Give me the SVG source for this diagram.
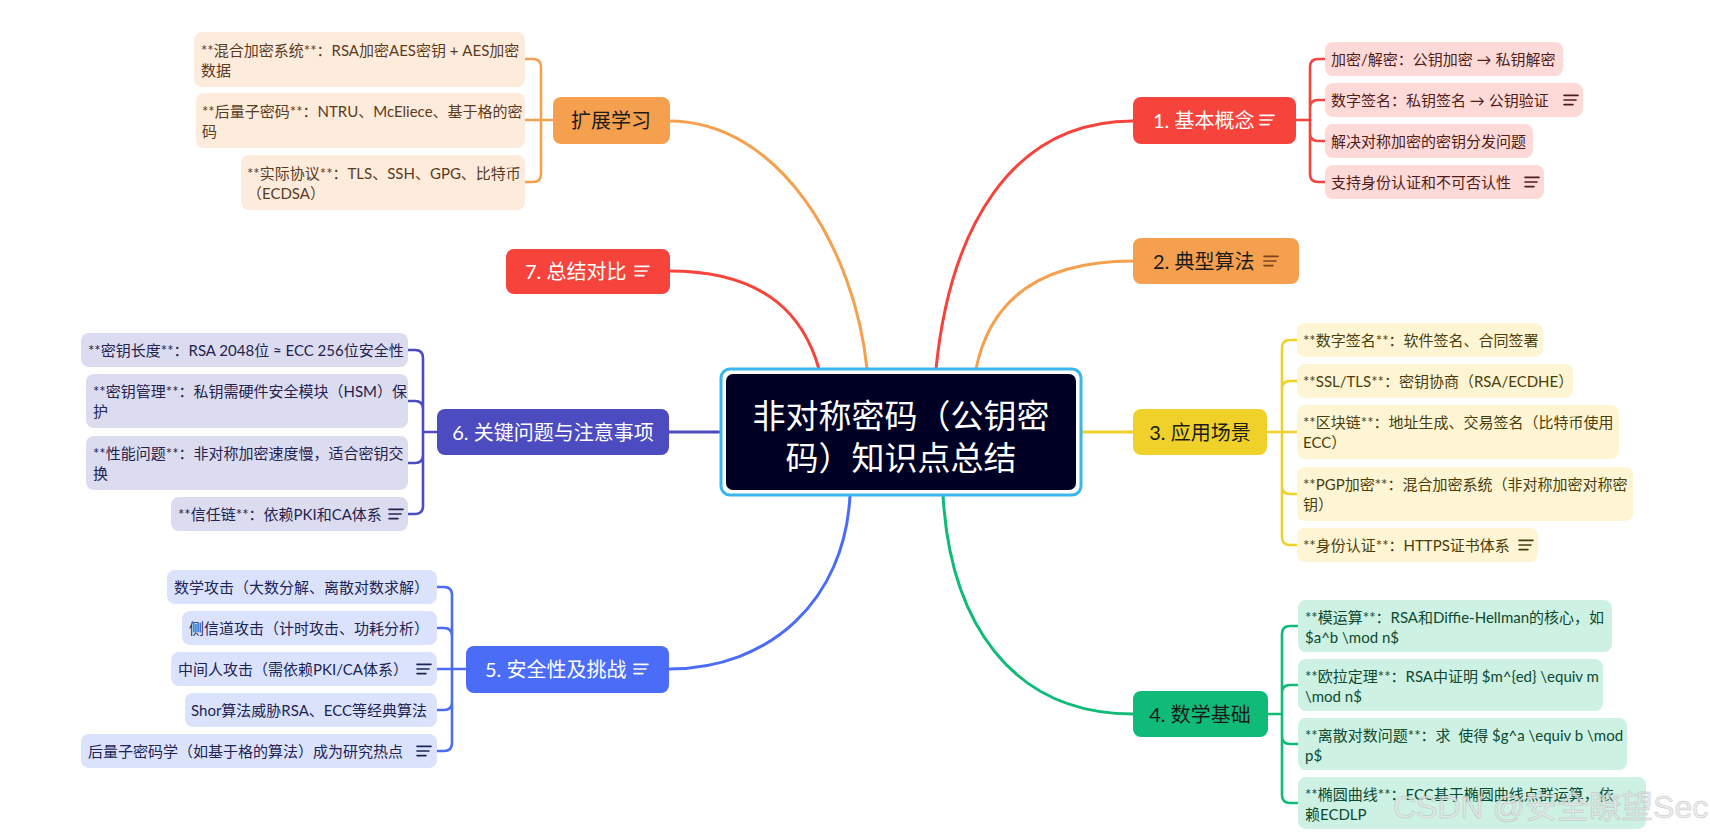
<svg xmlns="http://www.w3.org/2000/svg" xmlns:xlink="http://www.w3.org/1999/xlink" width="1710" height="835" viewBox="0 0 1710 835">
<style>
text{font-family:Lato,"Noto Sans CJK SC",sans-serif;dominant-baseline:central}
.c{font-size:15px}
.n{font-size:20px}
.w{fill:#ffffff}
.d{fill:#1b1b1b}
.conn{fill:none;stroke-width:3;stroke-linecap:round}
.br{fill:none;stroke-width:2.6;stroke-linecap:round;stroke-linejoin:round}
.red{stroke:#f6443c}.org{stroke:#f5a04e}.yel{stroke:#f0d12a}.grn{stroke:#10bb78}.blu{stroke:#4a6cf7}.ind{stroke:#4c4bc0}
.cr{fill:#fdd9d8}.tr{fill:#4f1c18}
.co{fill:#fdebdc}.to{fill:#5a3b1f}
.cy{fill:#fdf5d4}.ty{fill:#4a3d0a}
.cg{fill:#cdf1e3}.tg{fill:#0c4a32}
.cb{fill:#dbe3fc}.tb{fill:#1d2456}
.ci{fill:#dcdcf1}.ti{fill:#25224f}
</style>
<defs>
<path id="note" d="M0 -4.6H14M0 0H12M0 4.6H9" fill="none" stroke="currentColor" stroke-width="1.6" stroke-linecap="round"/>
</defs>
<rect width="1710" height="835" fill="#ffffff"/>

<g id="connectors">
<path class="conn red" d="M936 369C950 230 1010 121 1133 121"/>
<path class="conn org" d="M976 369C990 300 1040 261 1133 261"/>
<path class="conn yel" d="M1081 432H1133"/>
<path class="conn grn" d="M943 495C950 620 1010 714 1133 714"/>
<path class="conn blu" d="M850 495C845 600 770 669 669 669"/>
<path class="conn ind" d="M669 432H721"/>
<path class="conn red" d="M819 369C805 320 770 271 669 271"/>
<path class="conn org" d="M867 369C855 250 780 121 669 121"/>
<path class="br red" d="M1296 120H1310M1310 120V67Q1310 59 1318 59H1325M1310 120V108Q1310 100 1318 100H1325M1310 120V133Q1310 141 1318 141H1325M1310 120V174Q1310 182 1318 182H1325"/>
<path class="br org" d="M553 120H525M541 120V67Q541 59 533 59H525M541 120V174Q541 182 533 182H525"/>
<path class="br yel" d="M1267 432H1297M1282 432V348Q1282 340 1290 340H1297M1282 432V389Q1282 381 1290 381H1297M1282 432V486Q1282 494 1290 494H1297M1282 432V537Q1282 545 1290 545H1297"/>
<path class="br grn" d="M1268 714H1282M1282 714V634Q1282 626 1290 626H1298M1282 714V693Q1282 685 1290 685H1298M1282 714V736Q1282 744 1290 744H1298M1282 714V795Q1282 803 1290 803H1298"/>
<path class="br blu" d="M466 669H437M452 669V595Q452 587 444 587H437M452 669V636Q452 628 444 628H437M452 669V702Q452 710 444 710H437M452 669V743Q452 751 444 751H437"/>
<path class="br ind" d="M437 432H423M423 432V358Q423 350 415 350H408M423 432V409Q423 401 415 401H408M423 432V455Q423 463 415 463H408M423 432V506Q423 514 415 514H408"/>
</g>

<g id="central">
<rect x="721" y="369" width="360" height="126" rx="9" fill="#ffffff" stroke="#3ab6ef" stroke-width="3"/>
<rect x="726" y="374" width="350" height="116" rx="7" fill="#000024"/>
<text x="901" y="415" text-anchor="middle" font-size="33" class="w">非对称密码（公钥密</text>
<text x="901" y="457" text-anchor="middle" font-size="33" class="w">码）知识点总结</text>
</g>

<g id="n1">
<rect x="1133" y="97" width="163" height="47" rx="8" fill="#f6443c"/>
<text x="1153" y="120" class="n w">1. 基本概念</text>
<use href="#note" x="1260" y="120" color="#ffffff"/>
</g>
<g id="n1c1"><rect x="1325" y="42" width="238" height="34" rx="8" class="cr"/><text x="1331" y="59" class="c tr">加密/解密：公钥加密 → 私钥解密</text></g>
<g id="n1c2"><rect x="1325" y="83" width="258" height="34" rx="8" class="cr"/><text x="1331" y="100" class="c tr">数字签名：私钥签名 → 公钥验证</text><use href="#note" x="1564" y="100" color="#4f1c18"/></g>
<g id="n1c3"><rect x="1325" y="124" width="208" height="34" rx="8" class="cr"/><text x="1331" y="141" class="c tr">解决对称加密的密钥分发问题</text></g>
<g id="n1c4"><rect x="1325" y="165" width="219" height="34" rx="8" class="cr"/><text x="1331" y="182" class="c tr">支持身份认证和不可否认性</text><use href="#note" x="1525" y="182" color="#4f1c18"/></g>

<g id="n2">
<rect x="1133" y="238" width="166" height="46" rx="8" fill="#f5a04e"/>
<text x="1153" y="261" class="n d">2. 典型算法</text>
<use href="#note" x="1264" y="261" color="#7a4518"/>
</g>

<g id="n3">
<rect x="1133" y="409" width="134" height="46" rx="8" fill="#f0d12a"/>
<text x="1200" y="432" text-anchor="middle" class="n d">3. 应用场景</text>
</g>
<g id="n3c1"><rect x="1297" y="323" width="246" height="34" rx="8" class="cy"/><text x="1303" y="340" class="c ty">**数字签名**：软件签名、合同签署</text></g>
<g id="n3c2"><rect x="1297" y="364" width="276" height="34" rx="8" class="cy"/><text x="1303" y="381" class="c ty">**SSL/TLS**：密钥协商（RSA/ECDHE）</text></g>
<g id="n3c3"><rect x="1297" y="405" width="322" height="54" rx="8" class="cy"/><text x="1303" y="422" class="c ty">**区块链**：地址生成、交易签名（比特币使用</text><text x="1303" y="442" class="c ty">ECC）</text></g>
<g id="n3c4"><rect x="1297" y="467" width="336" height="54" rx="8" class="cy"/><text x="1303" y="484" class="c ty">**PGP加密**：混合加密系统（非对称加密对称密</text><text x="1303" y="504" class="c ty">钥）</text></g>
<g id="n3c5"><rect x="1297" y="528" width="241" height="34" rx="8" class="cy"/><text x="1303" y="545" class="c ty">**身份认证**：HTTPS证书体系</text><use href="#note" x="1519" y="545" color="#4a3d0a"/></g>

<g id="n4">
<rect x="1133" y="691" width="135" height="46" rx="8" fill="#10bb78"/>
<text x="1200" y="714" text-anchor="middle" class="n d">4. 数学基础</text>
</g>
<g id="n4c1"><rect x="1298" y="600" width="314" height="52" rx="8" class="cg"/><text x="1305" y="617" class="c tg">**模运算**：RSA和Diffie-Hellman的核心，如</text><text x="1305" y="637" class="c tg">$a^b \mod n$</text></g>
<g id="n4c2"><rect x="1298" y="659" width="305" height="52" rx="8" class="cg"/><text x="1305" y="676" class="c tg">**欧拉定理**：RSA中证明 $m^{ed} \equiv m</text><text x="1305" y="696" class="c tg">\mod n$</text></g>
<g id="n4c3"><rect x="1298" y="718" width="329" height="52" rx="8" class="cg"/><text x="1305" y="735" class="c tg" xml:space="preserve">**离散对数问题**：求  使得 $g^a \equiv b \mod</text><text x="1305" y="755" class="c tg">p$</text></g>
<g id="n4c4"><rect x="1298" y="777" width="348" height="52" rx="8" class="cg"/><text x="1305" y="794" class="c tg">**椭圆曲线**：ECC基于椭圆曲线点群运算，依</text><text x="1305" y="814" class="c tg">赖ECDLP</text></g>

<g id="n5">
<rect x="466" y="646" width="203" height="47" rx="8" fill="#4a6cf7"/>
<text x="485" y="669" class="n w">5. 安全性及挑战</text>
<use href="#note" x="634" y="669" color="#ffffff"/>
</g>
<g id="n5c1"><rect x="167" y="570" width="270" height="34" rx="8" class="cb"/><text x="174" y="587" class="c tb">数学攻击（大数分解、离散对数求解）</text></g>
<g id="n5c2"><rect x="182" y="611" width="255" height="34" rx="8" class="cb"/><text x="189" y="628" class="c tb">侧信道攻击（计时攻击、功耗分析）</text></g>
<g id="n5c3"><rect x="171" y="652" width="266" height="34" rx="8" class="cb"/><text x="178" y="669" class="c tb">中间人攻击（需依赖PKI/CA体系）</text><use href="#note" x="417" y="669" color="#1d2456"/></g>
<g id="n5c4"><rect x="185" y="693" width="252" height="34" rx="8" class="cb"/><text x="191" y="710" class="c tb">Shor算法威胁RSA、ECC等经典算法</text></g>
<g id="n5c5"><rect x="81" y="734" width="356" height="34" rx="8" class="cb"/><text x="88" y="751" class="c tb">后量子密码学（如基于格的算法）成为研究热点</text><use href="#note" x="417" y="751" color="#1d2456"/></g>

<g id="n6">
<rect x="437" y="409" width="232" height="46" rx="8" fill="#4c4bc0"/>
<text x="553" y="432" text-anchor="middle" class="n w">6. 关键问题与注意事项</text>
</g>
<g id="n6c1"><rect x="81" y="333" width="327" height="34" rx="8" class="ci"/><text x="88" y="350" class="c ti">**密钥长度**：RSA 2048位 ≈ ECC 256位安全性</text></g>
<g id="n6c2"><rect x="86" y="374" width="322" height="54" rx="8" class="ci"/><text x="93" y="391" class="c ti">**密钥管理**：私钥需硬件安全模块（HSM）保</text><text x="93" y="411" class="c ti">护</text></g>
<g id="n6c3"><rect x="86" y="436" width="322" height="54" rx="8" class="ci"/><text x="93" y="453" class="c ti">**性能问题**：非对称加密速度慢，适合密钥交</text><text x="93" y="473" class="c ti">换</text></g>
<g id="n6c4"><rect x="171" y="497" width="237" height="34" rx="8" class="ci"/><text x="178" y="514" class="c ti">**信任链**：依赖PKI和CA体系</text><use href="#note" x="389" y="514" color="#25224f"/></g>

<g id="n7">
<rect x="506" y="249" width="164" height="45" rx="8" fill="#f6443c"/>
<text x="525" y="271" class="n w">7. 总结对比</text>
<use href="#note" x="635" y="271" color="#ffffff"/>
</g>

<g id="n8">
<rect x="553" y="97" width="117" height="47" rx="8" fill="#f5a04e"/>
<text x="611" y="120" text-anchor="middle" class="n d">扩展学习</text>
</g>
<g id="n8c1"><rect x="194" y="32" width="331" height="55" rx="8" class="co"/><text x="201" y="50" class="c to">**混合加密系统**：RSA加密AES密钥 + AES加密</text><text x="201" y="70" class="c to">数据</text></g>
<g id="n8c2"><rect x="196" y="93" width="329" height="55" rx="8" class="co"/><text x="202" y="111" class="c to">**后量子密码**：NTRU、McEliece、基于格的密</text><text x="202" y="131" class="c to">码</text></g>
<g id="n8c3"><rect x="241" y="155" width="284" height="55" rx="8" class="co"/><text x="247" y="173" class="c to">**实际协议**：TLS、SSH、GPG、比特币</text><text x="247" y="193" class="c to">（ECDSA）</text></g>

<text x="1393" y="807" font-size="32" style="font-family:'Liberation Sans','Noto Sans CJK SC',sans-serif" fill="#e6e6e6" stroke="#b4b4b4" stroke-width="0.5" opacity="0.75">CSDN @安全瞭望Sec</text>
</svg>
